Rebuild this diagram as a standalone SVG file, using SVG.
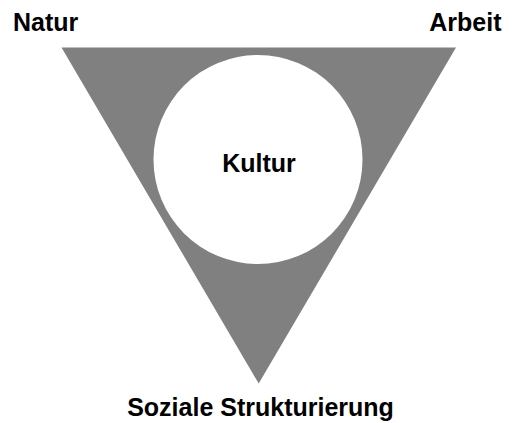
<svg xmlns="http://www.w3.org/2000/svg" width="516" height="423" viewBox="0 0 516 423">
<style>
.lbl{font-family:"Liberation Sans",Arial,sans-serif;font-weight:bold;font-size:25px;fill:#000}
</style>
<rect width="516" height="423" fill="#fff"/>
<g id="triangle">
<polygon points="61.5,47.5 456,47.5 258.7,383.5" fill="#808080"/>
</g>
<g id="kultur">
<circle cx="258" cy="159.5" r="104.5" fill="#fff"/>
<text class="lbl" x="259" y="171.5" text-anchor="middle">Kultur</text>
</g>
<g id="natur">
<text class="lbl" x="13" y="31">Natur</text>
</g>
<g id="arbeit">
<text class="lbl" x="501.5" y="31" text-anchor="end">Arbeit</text>
</g>
<g id="soziale">
<text class="lbl" x="260.5" y="415.5" text-anchor="middle">Soziale Strukturierung</text>
</g>
<g id="connectors"></g>
</svg>
